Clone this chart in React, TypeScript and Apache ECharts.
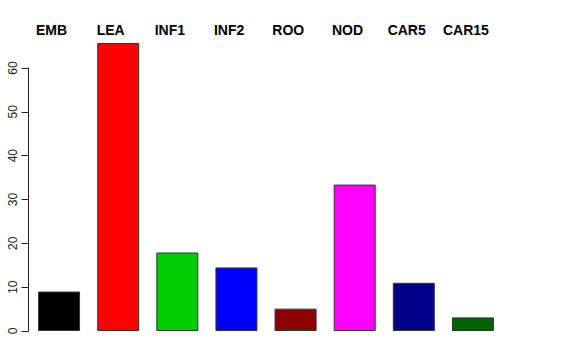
import React, { useEffect, useRef } from "react";
import * as echarts from "echarts";

const categories = ["EMB", "LEA", "INF1", "INF2", "ROO", "NOD", "CAR5", "CAR15"];
const values = [9, 65.7, 17.9, 14.5, 5.1, 33.4, 11.0, 3.1];
const colors = ["#000000", "#FF0000", "#00CD00", "#0000FF", "#8B0000", "#FF00FF", "#00008B", "#006400"];
const yTicks = [0, 10, 20, 30, 40, 50, 60];

export default function App() {
  const ref = useRef<HTMLDivElement>(null);
  useEffect(() => {
    if (!ref.current) return;
    const chart = echarts.init(ref.current, null, { renderer: "svg" });
    chart.setOption({
      animation: false,
      backgroundColor: "#ffffff",
      grid: { left: 29.5, right: 73.5, top: 68, bottom: 29 },
      xAxis: {
        type: "category",
        data: categories,
        show: false,
      },
      yAxis: {
        type: "value",
        min: yTicks[0],
        max: yTicks[yTicks.length - 1],
        interval: 10,
        offset: 1,
        splitLine: { show: false },
        axisLine: { show: true, lineStyle: { color: "#222", width: 1 } },
        axisTick: { show: true, length: 7, lineStyle: { color: "#222" } },
        axisLabel: {
          rotate: 90,
          margin: 10,
          color: "#222",
          fontSize: 12,
          fontFamily: "Liberation Sans, Arial, sans-serif",
        },
      },
      series: [
        {
          type: "bar",
          clip: false,
          barWidth: 42,
          data: values.map((v, i) => ({
            value: v,
            itemStyle: { color: colors[i], borderColor: "#333", borderWidth: 1 },
          })),
        },
      ],
      graphic: categories.map((c, i) => ({
        type: "text",
        x: 51.5 + i * 59.2,
        y: 30,
        style: {
          text: c,
          fill: "#000",
          font: "bold 14px 'Liberation Sans', Arial, sans-serif",
          align: "center",
          verticalAlign: "middle",
        },
      })),
    });
    return () => chart.dispose();
  }, []);
  return <div ref={ref} style={{ width: 576, height: 360, position: "absolute", left: 0, top: 0 }} />;
}
